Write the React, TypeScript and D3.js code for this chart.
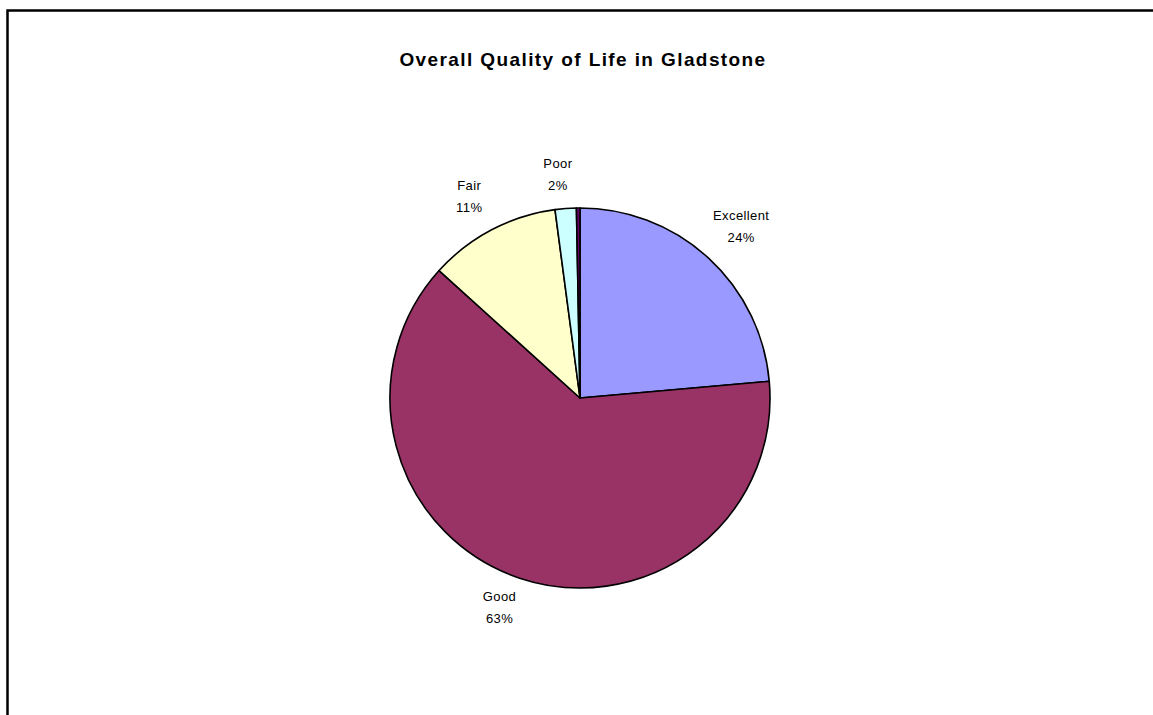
import React from "react";
import * as d3 from "d3";

// Survey responses, share of respondents (%)
const categories = ["Excellent", "Good", "Fair", "Poor", "Very Poor"];
const shares = [23.6, 63.1, 11.2, 1.8, 0.3];
const showLabel = [true, true, true, true, false];
const sliceColors = ["#9999FF", "#993366", "#FFFFCC", "#CCFFFF", "#660066"];

const W = 1153;
const H = 715;
const CX = 580;
const CY = 398;
const R = 190;
const FONT = "Liberation Sans, Arial, sans-serif";
const LABEL_SIZE = 13;
const LINE_GAP = 22;

export default function App() {
  const pie = d3
    .pie<number>()
    .sort(null)
    .value((d) => d);
  const arcs = pie(shares);
  const arc = d3
    .arc<d3.PieArcDatum<number>>()
    .innerRadius(0)
    .outerRadius(R);

  // Label box sits just outside the rim, its nearest corner on the anchor point
  const clamp = (v: number) => Math.max(-1, Math.min(1, v));
  const labelCenter = (a: d3.PieArcDatum<number>, w: number) => {
    const mid = (a.startAngle + a.endAngle) / 2;
    const s = Math.sin(mid);
    const c = Math.cos(mid);
    const ax = CX + (R + 12) * s;
    const ay = CY - (R + 12) * c;
    const hh = (LINE_GAP + LABEL_SIZE) / 2 + 2.5;
    return { x: ax + clamp(s * 3) * (w / 2) - 4, y: ay - clamp(c * 3) * hh - 2.5 };
  };

  return (
    <div style={{ position: "fixed", left: 0, top: 0, width: W, height: H, background: "#fff" }}>
      <svg width={W} height={H} style={{ display: "block" }}>
        <rect x={0} y={0} width={W} height={H} fill="#fff" />
        <rect x={7.5} y={10.5} width={W + 20} height={H + 20} fill="none" stroke="#000" strokeWidth={2.5} />
        <text
          x={583}
          y={66}
          textAnchor="middle"
          fontFamily={FONT}
          fontWeight="bold"
          fontSize={19}
          letterSpacing={1.4}
          fill="#000"
        >
          Overall Quality of Life in Gladstone
        </text>
        <g>
          {arcs.map((a, i) => (
            <path
              key={categories[i]}
              d={arc(a) || ""}
              transform={`translate(${CX},${CY})`}
              fill={sliceColors[i]}
              stroke="#000"
              strokeWidth={1.6}
              strokeLinejoin="round"
            />
          ))}
        </g>
        <g fontFamily={FONT} fontSize={LABEL_SIZE} letterSpacing={0.4} fill="#000" textAnchor="middle">
          {arcs.map((a, i) => {
            if (!showLabel[i]) return null;
            const pct = `${Math.round(shares[i])}%`;
            const w = Math.max(categories[i].length, pct.length) * 6.4;
            const p = labelCenter(a, w);
            const firstBaseline = p.y - LINE_GAP / 2 + LABEL_SIZE * 0.36;
            return (
              <text key={categories[i]}>
                <tspan x={p.x} y={firstBaseline}>
                  {categories[i]}
                </tspan>
                <tspan x={p.x} y={firstBaseline + LINE_GAP}>
                  {pct}
                </tspan>
              </text>
            );
          })}
        </g>
      </svg>
    </div>
  );
}
